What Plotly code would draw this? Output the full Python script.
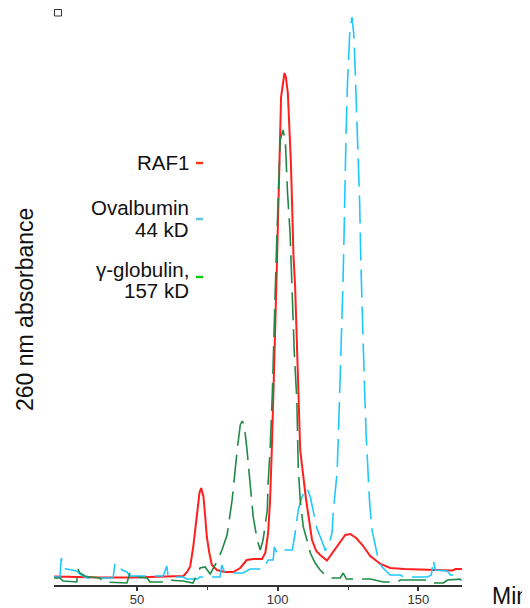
import plotly.graph_objects as go

# ---- data (minutes, 260 nm absorbance, arbitrary units) ----
raf1_min = [20.5, 26.2, 36.8, 47.5, 58.2, 65.3, 66.5, 67.8, 68.9, 70.0, 71.2, 72.2, 72.8, 73.6, 74.2,
            74.8, 75.7, 76.6, 78.4, 81.3, 84.2, 86.7, 89.0, 91.3, 94.4, 95.6, 96.6, 97.3, 97.9, 98.3,
            98.8, 99.7, 100.3, 100.9, 101.2, 102.4, 102.9, 103.6, 104.1, 104.7, 105.1, 105.6, 106.2,
            107.4, 108.0, 110.1, 112.2, 113.7, 115.1, 117.5, 119.8, 122.2, 124.0, 125.8, 127.9, 130.1,
            132.9, 136.5, 140.0, 145.0, 150.7, 157.8, 162.1, 163.2, 165.7]
raf1_abs = [1.7, 1.6, 1.5, 1.5, 1.6, 1.7, 1.8, 2.6, 3.7, 7.7, 13.7, 18.4, 19.4, 17.7, 14.0,
            9.7, 6.4, 4.0, 3.0, 2.6, 2.6, 3.4, 5.0, 5.2, 5.2, 6.4, 10.4, 17.0, 27.0, 37.0,
            45.0, 63.6, 78.4, 89.0, 97.6, 102.4, 101.6, 98.4, 92.4, 84.4, 76.4, 66.0, 59.6,
            39.0, 27.0, 17.0, 9.0, 6.8, 6.0, 4.9, 6.7, 8.7, 10.0, 10.2, 9.4, 8.0,
            5.8, 4.2, 3.4, 3.2, 3.1, 3.0, 2.9, 3.2, 3.2]

oval_min = [20.5, 22.6, 23.1, 23.7, 25.1, 28.6, 29.7, 32.2, 36.8, 41.5, 42.2, 43.2, 44.7, 46.4, 47.5,
            59.3, 60.6, 61.0, 61.7, 66.4, 67.8, 71.4, 72.4, 79.5, 80.1, 81.3, 87.7, 90.2, 94.8, 96.6,
            98.4, 98.8, 99.7, 102.7, 105.2, 106.2, 107.3, 108.6, 110.4, 111.6, 112.6, 113.9, 115.7,
            116.9, 118.0, 119.3, 119.8, 120.5, 121.1, 121.6, 122.2, 122.6, 123.2, 123.6, 123.9, 124.3,
            124.8, 125.6, 126.4, 127.0, 127.5, 127.9, 128.5, 129.1, 129.6, 130.2, 130.8, 131.4, 132.1,
            132.6, 133.5, 134.7, 135.8, 137.1, 138.3, 140.0, 143.6, 144.7, 153.2, 154.6, 155.3, 156.0,
            160.3, 161.4, 163.9, 164.9, 165.7]
oval_abs = [1.6, 1.6, 5.4, 3.4, 3.2, 2.8, 2.2, 1.4, 1.4, 1.4, 4.4, 3.8, 3.0, 2.6, 1.8,
            1.8, 3.8, 2.0, 1.6, 1.6, 1.2, 1.2, 1.6, 1.6, 4.0, 2.4, 2.4, 3.2, 3.2, 5.0,
            5.0, 7.6, 6.4, 7.0, 7.0, 10.4, 15.0, 17.6, 19.4, 17.6, 15.0, 11.4, 8.8,
            7.0, 7.6, 10.4, 15.0, 19.6, 22.4, 30.4, 40.4, 50.4, 60.4, 70.4, 80.4, 90.4,
            100.4, 110.4, 113.6, 110.4, 103.6, 97.0, 87.0, 77.0, 63.6, 50.4, 40.4, 30.4, 21.6,
            17.0, 11.0, 7.6, 5.0, 3.6, 3.0, 2.0, 2.0, 1.6, 1.6, 2.0, 5.0, 3.0,
            2.8, 2.0, 2.0, 1.0, 1.0]

glob_min = [20.5, 22.6, 23.7, 28.6, 29.0, 29.7, 31.5, 33.3, 36.8, 37.9, 46.4, 47.5, 48.6, 53.6, 54.6,
            60.3, 61.0, 66.4, 69.9, 71.4, 72.4, 74.2, 76.0, 78.5, 80.2, 82.0, 83.8, 85.6, 86.7, 87.4,
            88.1, 89.1, 90.2, 91.3, 92.7, 93.8, 94.8, 96.3, 96.6, 97.3, 98.1, 98.5, 99.1, 99.7, 100.3,
            100.9, 101.9, 102.7, 103.0, 103.5, 104.4, 104.8, 105.4, 105.9, 106.8, 107.3, 108.0, 109.1,
            110.4, 111.6, 113.3, 115.1, 116.9, 118.7, 122.2, 123.3, 124.4, 132.9, 137.5, 142.5, 143.6,
            153.2, 154.3, 158.9, 160.3, 165.7]
glob_abs = [1.4, 1.4, 0.8, 0.6, 3.2, 2.4, 1.8, 1.6, 1.4, 0.6, 0.4, 2.4, 1.6, 1.4, 0.6,
            0.6, 1.0, 0.8, 0.4, 2.4, 3.4, 3.6, 2.2, 4.8, 7.0, 10.0, 17.0, 27.0, 32.0, 32.8,
            32.0, 27.0, 20.0, 13.6, 9.0, 7.0, 9.0, 15.0, 20.4, 27.0, 38.4, 48.4, 58.4, 69.6, 78.4,
            89.0, 91.0, 89.0, 85.0, 78.4, 70.4, 63.6, 55.0, 46.4, 37.0, 23.6, 17.0, 11.6,
            9.0, 6.4, 4.4, 3.0, 2.0, 1.4, 1.4, 2.4, 1.2, 1.2, 0.6, 0.6, 1.0,
            1.0, 0.4, 0.4, 1.0, 1.2]

major_ticks = [50, 100, 150]
major_labels = ["50", "100", "150"]
minor_ticks = [75, 125]

legend_lines = [
    (["RAF1"], "#ff3a1c"),
    (["Ovalbumin", "44 kD"], "#62c3dc"),
    (["\u03b3-globulin,", "157 kD"], "#12cc12"),
]

# ---- layout geometry ----
# The page body adds an 8 px offset; work in target-image pixels and shift.
OFF = 8
W, H = 530 - OFF, 608 - OFF
PLOT_X0, PLOT_X1 = 54, 462      # target-image pixel extent of the plot area
PLOT_Y0, PLOT_Y1 = 10, 585
L, R = PLOT_X0 - OFF, W - (PLOT_X1 - OFF)
T, B = PLOT_Y0 - OFF, H - (PLOT_Y1 - OFF)
PW, PH = PLOT_X1 - PLOT_X0, PLOT_Y1 - PLOT_Y0


def px(x):
    return (x - PLOT_X0) / PW


def py(y):
    return (PLOT_Y1 - y) / PH


FONT = "Liberation Sans, Arial, sans-serif"

fig = go.Figure()
fig.add_trace(go.Scatter(x=raf1_min, y=raf1_abs, mode="lines", name="RAF1",
                         line=dict(color="#ff1f1f", width=2)))
fig.add_trace(go.Scatter(x=oval_min, y=oval_abs, mode="lines", name="Ovalbumin 44 kD",
                         line=dict(color="#1ec8ff", width=1.6, dash="28px,9px")))
fig.add_trace(go.Scatter(x=glob_min, y=glob_abs, mode="lines", name="γ-globulin, 157 kD",
                         line=dict(color="#1f8a48", width=1.6, dash="28px,9px")))

annotations = []
shapes = []
legend_y = [[163], [207, 229], [269, 290]]
dash_y = [163, 219, 277]
for (lines, col), ys, dy in zip(legend_lines, legend_y, dash_y):
    for txt, yy in zip(lines, ys):
        annotations.append(dict(xref="paper", yref="paper", x=px(191), y=py(yy),
                                xanchor="right", yanchor="middle", text=txt, showarrow=False,
                                font=dict(family=FONT, size=20.5, color="#111")))
    shapes.append(dict(type="line", xref="paper", yref="paper", x0=px(196), x1=px(203),
                       y0=py(dy), y1=py(dy), line=dict(color=col, width=2.5)))

annotations.append(dict(xref="paper", yref="paper", x=px(25), y=py(310), text="260 nm absorbance",
                        textangle=-90, showarrow=False, xanchor="center", yanchor="middle",
                        font=dict(family=FONT, size=23, color="#111")))
annotations.append(dict(xref="paper", yref="paper", x=px(490), y=py(596), text="Min",
                        showarrow=False, xanchor="left", yanchor="middle",
                        font=dict(family=FONT, size=23, color="#111")))

shapes.append(dict(type="rect", xref="paper", yref="paper", x0=px(54.5), x1=px(61.5),
                   y0=py(16), y1=py(9.5), line=dict(color="#333", width=1), fillcolor="white"))

fig.update_layout(
    width=W, height=H,
    margin=dict(l=L, r=R, t=T, b=B, autoexpand=False),
    paper_bgcolor="white", plot_bgcolor="white",
    showlegend=False,
    annotations=annotations, shapes=shapes,
    xaxis=dict(range=[20.5, 165.5], showgrid=False, zeroline=False, showline=True,
               linecolor="#333", linewidth=1.5, ticks="outside", ticklen=4, tickwidth=1.5,
               tickcolor="#333", tickmode="array", tickvals=major_ticks, ticktext=major_labels,
               tickfont=dict(family=FONT, size=13, color="#333"), ticklabelstandoff=-2,
               minor=dict(tickmode="array", tickvals=minor_ticks, ticks="outside",
                          ticklen=3, tickwidth=1.2, tickcolor="#333", showgrid=False)),
    yaxis=dict(range=[0, 115], showgrid=False, zeroline=False, showline=False,
               showticklabels=False, ticks=""),
)

fig.write_html("out.html")
